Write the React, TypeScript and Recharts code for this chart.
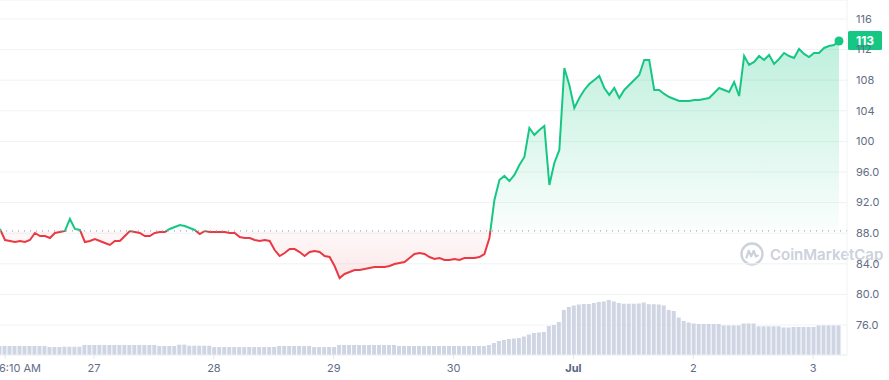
import React from 'react';
import {
  ComposedChart,
  Area,
  Bar,
  XAxis,
  YAxis,
  CartesianGrid,
  ReferenceLine,
  ReferenceDot,
} from 'recharts';

// Hourly price (USD), starting 26 Jun ~5:10 AM
const PRICE = [
  88.55, 87.11, 86.98, 86.85, 86.98, 86.85, 87.11, 88.03, 87.63, 87.63, 87.37, 88.03,
  88.16, 88.29, 89.86, 88.55, 88.42, 86.85, 86.98, 87.24, 86.98, 86.72, 86.46, 86.98,
  86.98, 87.63, 88.29, 88.16, 88.03, 87.63, 87.63, 88.03, 88.16, 88.16, 88.55, 88.81,
  89.07, 88.94, 88.68, 88.42, 87.89, 88.29, 88.16, 88.16, 88.16, 88.16, 88.03, 88.03,
  87.5, 87.37, 87.37, 87.11, 86.98, 87.11, 86.98, 85.8, 85.02, 85.41, 85.93, 85.93,
  85.54, 85.02, 85.54, 85.67, 85.54, 85.02, 84.89, 83.71, 82.14, 82.67, 82.93, 83.19,
  83.19, 83.32, 83.45, 83.58, 83.58, 83.58, 83.71, 83.97, 84.1, 84.24, 84.76, 85.28,
  85.41, 85.28, 84.89, 84.63, 84.76, 84.5, 84.5, 84.63, 84.5, 84.76, 84.76, 84.76,
  84.89, 85.28, 87.37, 92.34, 94.95, 95.48, 94.82, 95.61, 96.92, 97.96, 101.76, 100.84,
  101.49, 102.01, 94.3, 97.18, 98.88, 109.59, 107.37, 104.37, 105.67, 106.72, 107.5, 108.03,
  108.55, 106.98, 106.07, 106.98, 105.67, 106.72, 107.37, 108.03, 108.68, 110.64, 110.64, 106.72,
  106.72, 106.2, 105.8, 105.54, 105.28, 105.28, 105.28, 105.41, 105.41, 105.54, 105.67, 106.33,
  106.98, 106.72, 106.46, 107.76, 105.93, 111.16, 109.99, 110.38, 111.16, 110.64, 111.29, 110.12,
  110.77, 111.56, 111.16, 110.9, 112.08, 111.43, 111.03, 111.56, 111.56, 112.21, 112.47, 112.6,
  113.12,
];

// Hourly volume (relative units)
const VOLUME = [
  9, 9, 9, 9, 9, 9, 9, 9, 9, 9, 8, 8, 8, 8.3, 8.3, 8.3, 8.3,
  10, 10, 10, 10, 10, 10, 10, 10, 10, 10, 10, 10, 10, 10, 10,
  9, 9, 9, 9, 10.3, 10.3, 9.3, 9.3, 9.3, 9.3, 9.3,
  8, 8, 8, 8, 8, 8, 8, 8, 8, 8, 8, 8, 8,
  9, 9, 9, 9, 9, 9, 9, 8, 8, 8, 8, 8,
  10, 10, 10, 10, 10, 10, 10, 10, 10, 10, 10, 10,
  9, 9, 9, 9, 9, 9, 9, 9, 9, 9, 9, 9, 9, 9, 9, 9, 9, 9,
  10, 12, 14, 15, 16, 16.5, 17, 18.5, 20.5, 22, 22.5, 23, 29, 30, 33,
  45, 48, 49.5, 50.5, 51, 51, 52, 53, 53.5, 55, 53.6, 52, 51.3, 51.3, 51.3,
  51.5, 52.5, 50.8, 50.8, 50.5, 49.6, 45, 44, 37.5, 34, 32.5, 31.5,
  31, 31, 31, 31, 31, 29.6, 29.6, 29.6, 29.6, 31.5, 31.5, 31.5,
  28.7, 28.7, 28.7, 28.7, 28.7, 27.5, 27.5, 28, 28, 28, 28, 28,
  29.6, 29.6, 29.6, 29.6, 29.6,
];

const X_TICK_HOURS = [1, 18.83, 42.83, 66.83, 90.83, 114.83, 138.83, 162.83];
const X_TICK_LABELS = ['6:10 AM', '27', '28', '29', '30', 'Jul', '2', '3'];
const Y_TICKS = [76, 80, 84, 88, 92, 96, 100, 104, 108, 112, 116];
const OPEN_PRICE = 88.3;
const PRICE_DOMAIN: [number, number] = [72.08, 118.48];
const VOLUME_DOMAIN: [number, number] = [0, 355];
const HOUR_DOMAIN: [number, number] = [0, 169.6];

const GREEN = '#16c784';
const RED = '#ea3943';
const GRID = '#eff2f5';
const AXIS_TEXT = '#616e85';
const FONT = 'Inter, "Noto Sans", sans-serif';

const data = PRICE.map((p, i) => ({ h: i, price: p, volume: VOLUME[i] }));
const LAST_INDEX = PRICE.length - 1;
const LAST_PRICE = PRICE[LAST_INDEX];
const maxP = Math.max(...PRICE);
const minP = Math.min(...PRICE);
const OFF = (maxP - OPEN_PRICE) / (maxP - minP);

const XTick = (props: any) => {
  const { x, y, payload } = props;
  const idx = X_TICK_HOURS.indexOf(payload.value);
  const label = X_TICK_LABELS[idx] ?? '';
  const first = idx === 0;
  const bold = label === 'Jul';
  return (
    <text
      x={first ? x - 6 : x}
      y={y}
      dy="0.71em"
      textAnchor={first ? 'start' : 'middle'}
      fill={bold ? '#58667e' : AXIS_TEXT}
      fontSize={11}
      fontWeight={bold ? 700 : 400}
      fontFamily={FONT}
    >
      {label}
    </text>
  );
};

const YTick = (props: any) => {
  const { x, y, payload } = props;
  const v = payload.value as number;
  const label = v >= 100 ? String(v) : v.toFixed(1);
  return (
    <text x={x} y={y} dy="0.355em" textAnchor="start" fill={AXIS_TEXT} fontSize={11} fontFamily={FONT}>
      {label}
    </text>
  );
};

const PriceBadge = (props: any) => {
  const vb = props.viewBox || {};
  const bx = (vb.x ?? 0) + (vb.width ?? 0) + 1;
  const cy = vb.y ?? 0;
  return (
    <g>
      <rect x={bx} y={cy - 10} width={34} height={19} rx={1.5} fill={GREEN} />
      <text
        x={bx + 17}
        y={cy}
        dy="0.36em"
        textAnchor="middle"
        fill="#ffffff"
        fontSize={12}
        fontWeight={700}
        fontFamily={FONT}
      >
        {Math.round(LAST_PRICE)}
      </text>
    </g>
  );
};

export default function App() {
  return (
    <div style={{ position: 'absolute', left: 0, top: 0, width: 889, height: 380, background: '#fff' }}>
      <div
        style={{
          position: 'absolute',
          left: 739,
          top: 241,
          height: 26,
          display: 'flex',
          alignItems: 'center',
          gap: 5,
          color: '#cdd1dc',
          fontFamily: FONT,
          fontWeight: 600,
          fontSize: 15,
          whiteSpace: 'nowrap',
        }}
      >
        <svg width={26} height={26} viewBox="0 0 26 26">
          <circle cx={13} cy={13} r={10.5} fill="none" stroke="#cdd1dc" strokeWidth={2.4} />
          <path
            d="M7.5 16.5 L9.6 9.8 L12.2 15.2 L14.8 9.8 L16.8 15.5 L18.8 14.6"
            fill="none"
            stroke="#cdd1dc"
            strokeWidth={2.2}
            strokeLinecap="round"
            strokeLinejoin="round"
          />
        </svg>
        <span>CoinMarketCap</span>
      </div>
      <div style={{ position: 'absolute', left: 0, top: 0 }}>
        <ComposedChart
          width={889}
          height={380}
          data={data}
          margin={{ top: 0, right: 0, bottom: 0, left: 0 }}
          style={{ fontFamily: FONT }}
        >
          <defs>
            <linearGradient id="lineStroke" x1="0" y1="0" x2="0" y2="1">
              <stop offset={OFF} stopColor={GREEN} />
              <stop offset={OFF} stopColor={RED} />
            </linearGradient>
            <linearGradient id="areaFill" x1="0" y1="0" x2="0" y2="1">
              <stop offset={0} stopColor={GREEN} stopOpacity={0.28} />
              <stop offset={OFF} stopColor={GREEN} stopOpacity={0.02} />
              <stop offset={OFF} stopColor={RED} stopOpacity={0.03} />
              <stop offset={1} stopColor={RED} stopOpacity={0.12} />
            </linearGradient>
          </defs>
          <CartesianGrid vertical={false} stroke={GRID} yAxisId="price" />
          <XAxis
            dataKey="h"
            type="number"
            domain={HOUR_DOMAIN}
            ticks={X_TICK_HOURS}
            interval={0}
            tick={<XTick />}
            tickSize={4}
            tickMargin={5}
            height={25}
            axisLine={{ stroke: GRID }}
            tickLine={{ stroke: '#e3e6eb' }}
            allowDataOverflow
          />
          <YAxis
            yAxisId="price"
            orientation="right"
            width={42}
            domain={PRICE_DOMAIN}
            ticks={Y_TICKS}
            interval={0}
            tick={<YTick />}
            tickLine={false}
            tickSize={6}
            tickMargin={3}
            axisLine={{ stroke: GRID }}
            allowDataOverflow
          />
          <YAxis yAxisId="vol" hide domain={VOLUME_DOMAIN} allowDataOverflow />
          <Bar dataKey="volume" yAxisId="vol" fill="#cfd5e3" barSize={4} isAnimationActive={false} />
          <ReferenceLine
            y={OPEN_PRICE}
            yAxisId="price"
            stroke="#a1a7b3"
            strokeDasharray="1 5"
            strokeWidth={1.2}
          />
          <Area
            dataKey="price"
            yAxisId="price"
            type="linear"
            baseValue={OPEN_PRICE}
            stroke="url(#lineStroke)"
            strokeWidth={2}
            fill="url(#areaFill)"
            fillOpacity={1}
            dot={false}
            activeDot={false}
            isAnimationActive={false}
          />
          <ReferenceDot
            x={LAST_INDEX}
            y={LAST_PRICE}
            yAxisId="price"
            r={4.5}
            fill={GREEN}
            stroke="none"
          />
          <ReferenceLine
            y={LAST_PRICE}
            yAxisId="price"
            stroke="none"
            ifOverflow="visible"
            label={<PriceBadge />}
          />
        </ComposedChart>
      </div>
    </div>
  );
}
